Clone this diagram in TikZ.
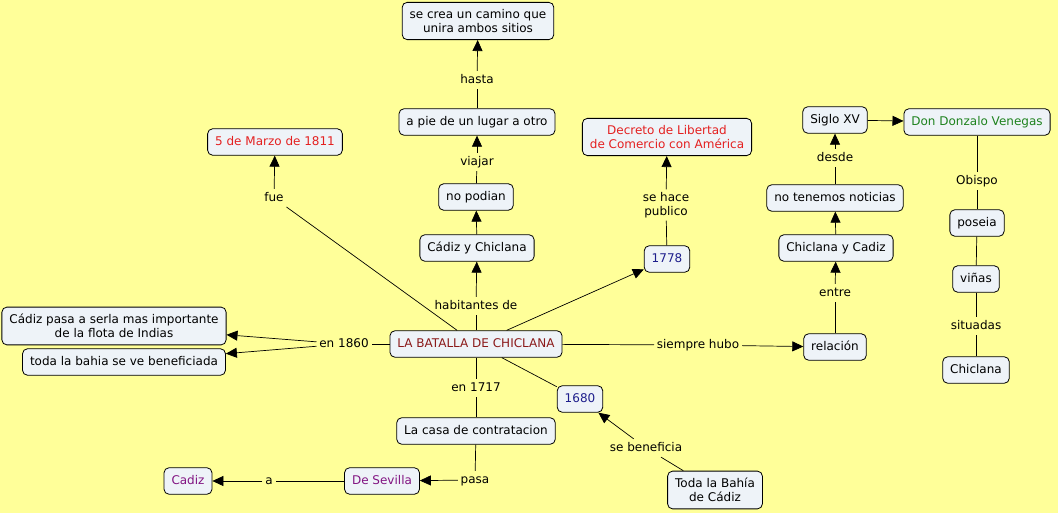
\documentclass[tikz,border=0pt]{standalone}
\usepackage{fontspec}
\setmainfont{DejaVu Sans}
\usetikzlibrary{arrows.meta}

\definecolor{fondo}{RGB}{255,255,153}
\definecolor{caja}{RGB}{238,243,248}
\definecolor{rojooscuro}{RGB}{139,26,26}
\definecolor{rojo}{RGB}{228,32,32}
\definecolor{azul}{RGB}{30,30,140}
\definecolor{verde}{RGB}{30,130,30}
\definecolor{morado}{RGB}{130,20,130}

\tikzset{
  concepto/.style={draw, rounded corners=5pt, fill=caja, line width=0.8pt,
    inner xsep=7.5pt, inner ysep=7pt, text height=9.5pt, text depth=3pt, align=center},
  doble/.style={concepto, text height={}, text depth={}},
  enlace/.style={inner sep=2.5pt, text height=9.5pt, text depth=3pt, align=center},
  flecha/.style={-{Triangle[length=11pt,width=10pt]}},
}

\begin{document}
\begin{tikzpicture}[x=1pt, y=-1pt, line width=0.7pt,
    font=\fontsize{12}{14}\selectfont]
  \fill[fondo] (0,0) rectangle (1058,513);
  \useasboundingbox (0,0) rectangle (1058,513);

  % conceptos
  \node[concepto, text=rojooscuro] (batalla) at (476,344) {LA BATALLA DE CHICLANA};
  \node[concepto] (cadchic) at (477,248) {Cádiz y Chiclana};
  \node[concepto] (nopodian) at (476,197) {no podian};
  \node[concepto] (apie) at (477,122) {a pie de un lugar a otro};
  \node[doble] (camino) at (478,21) {se crea un camino que\\unira ambos sitios};
  \node[concepto, text=rojo] (marzo) at (275,142) {5 de Marzo de 1811};
  \node[doble, text=rojo] (decreto) at (667,137) {Decreto de Libertad\\de Comercio con América};
  \node[concepto, text=azul] (y1778) at (667,259) {1778};
  \node[concepto] (siglo) at (835,120) {Siglo XV};
  \node[concepto, text=verde] (donzalo) at (977,122) {Don Donzalo Venegas};
  \node[concepto] (noticias) at (835,198) {no tenemos noticias};
  \node[concepto] (chiccad) at (836,248) {Chiclana y Cadiz};
  \node[concepto] (relacion) at (835,347) {relación};
  \node[concepto] (poseia) at (977,223) {poseia};
  \node[concepto] (vinas) at (976,279) {viñas};
  \node[concepto] (chiclana) at (976,370) {Chiclana};
  \node[doble] (flota) at (114,326) {Cádiz pasa a serla mas importante\\de la flota de Indias};
  \node[concepto] (bahia) at (124,362) {toda la bahia se ve beneficiada};
  \node[concepto, text=azul] (y1680) at (580,399) {1680};
  \node[concepto] (casa) at (476,431) {La casa de contratacion};
  \node[concepto, text=morado] (sevilla) at (382,481) {De Sevilla};
  \node[concepto, text=morado] (cadiz) at (188,481) {Cadiz};
  \node[doble] (todabahia) at (715,490) {Toda la Bahía\\de Cádiz};

  % palabras de enlace
  \node[enlace] (lhab) at (476,306) {habitantes de};
  \node[enlace] (l1717) at (476,388) {en 1717};
  \node[enlace] (l1860) at (344,344) {en 1860};
  \node[enlace] (lsiempre) at (698,345) {siempre hubo};
  \node[enlace] (lfue) at (274,198) {fue};
  \node[enlace] (lviajar) at (477,162) {viajar};
  \node[enlace] (lhasta) at (477,80) {hasta};
  \node[doble, draw=none, fill=none, inner sep=2.5pt] (lpublico) at (666,205) {se hace\\publico};
  \node[enlace] (ldesde) at (835,158) {desde};
  \node[enlace] (lentre) at (835,293) {entre};
  \node[enlace] (lobispo) at (977,181) {Obispo};
  \node[enlace] (lsituadas) at (976,326) {situadas};
  \node[enlace] (lpasa) at (475,480) {pasa};
  \node[enlace] (la) at (269,481) {a};
  \node[enlace] (lbenef) at (646,448) {se beneficia};

  % conexiones
  \draw (batalla) -- (lhab);
  \draw[flecha] (lhab) -- (cadchic);
  \draw[flecha] (cadchic) -- (nopodian);
  \draw (nopodian) -- (lviajar);
  \draw[flecha] (lviajar) -- (apie);
  \draw (apie) -- (lhasta);
  \draw[flecha] (lhasta) -- (camino);
  \draw (batalla) -- (lfue);
  \draw[flecha] (lfue) -- (marzo);
  \draw[flecha] (batalla) -- (y1778);
  \draw (y1778) -- (lpublico);
  \draw[flecha] (lpublico) -- (decreto);
  \draw (batalla) -- (lsiempre);
  \draw[flecha] (lsiempre) -- (relacion);
  \draw (relacion) -- (lentre);
  \draw[flecha] (lentre) -- (chiccad);
  \draw[flecha] (chiccad) -- (noticias);
  \draw (noticias) -- (ldesde);
  \draw[flecha] (ldesde) -- (siglo);
  \draw[flecha] (siglo) -- (donzalo);
  \draw (donzalo) -- (lobispo);
  \draw (lobispo) -- (poseia);
  \draw (poseia) -- (vinas);
  \draw (vinas) -- (lsituadas);
  \draw (lsituadas) -- (chiclana);
  \draw (batalla) -- (l1860);
  \draw[flecha] (l1860) -- (flota);
  \draw[flecha] (l1860) -- (bahia);
  \draw (batalla) -- (l1717);
  \draw (l1717) -- (casa);
  \draw (batalla) -- (y1680);
  \draw (todabahia) -- (lbenef);
  \draw[flecha] (lbenef) -- (y1680);
  \draw (casa) -- (lpasa);
  \draw[flecha] (lpasa) -- (sevilla);
  \draw (sevilla) -- (la);
  \draw[flecha] (la) -- (cadiz);
\end{tikzpicture}
\end{document}
